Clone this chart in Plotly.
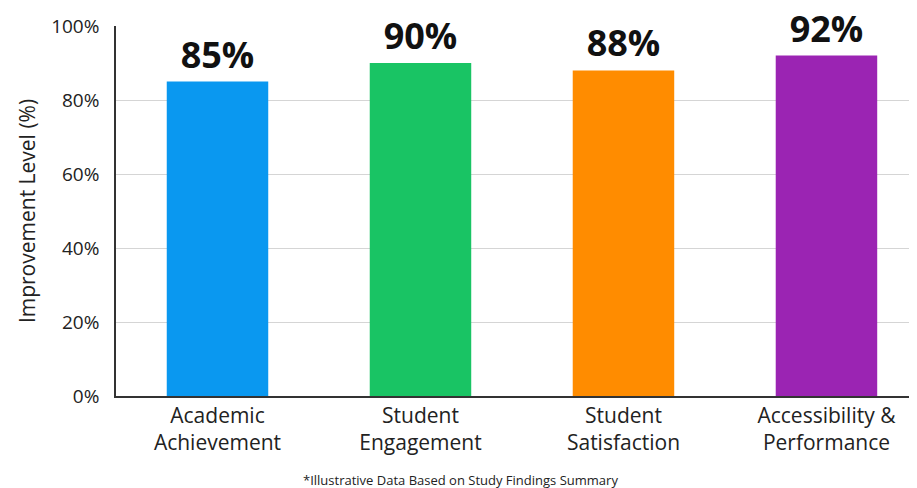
import plotly.graph_objects as go

categories = ["Academic<br>Achievement", "Student<br>Engagement", "Student<br>Satisfaction", "Accessibility &<br>Performance"]
values = [85, 90, 88, 92]
labels = ["85%", "90%", "88%", "92%"]
colors = ["#0A98F0", "#19C464", "#FF8C00", "#9B24B3"]
yticks = [0, 20, 40, 60, 80, 100]
yticklabels = ["0%", "20%", "40%", "60%", "80%", "100%"]

FONT = "Open Sans"

fig = go.Figure(go.Bar(
    x=categories, y=values, marker=dict(color=colors, line=dict(width=0)),
    width=0.5, text=labels, textposition="outside",
    textfont=dict(family=FONT, size=36, color="#111111", weight="bold"),
    cliponaxis=False, hoverinfo="skip",
))

fig.update_layout(
    width=909, height=480,
    margin=dict(l=108, r=0, t=18, b=92),
    paper_bgcolor="white", plot_bgcolor="white",
    showlegend=False, bargap=0.5,
    font=dict(family=FONT, color="#222222"),
    annotations=[dict(
        text="*Illustrative Data Based on Study Findings Summary",
        x=0.43, xref="paper", y=-0.227, yref="paper", yanchor="middle",
        showarrow=False, font=dict(family=FONT, size=13, color="#222222"),
    )],
)
fig.update_xaxes(
    range=[-0.5, 3.446], showline=True, linecolor="#333333", linewidth=1.5,
    tickfont=dict(family=FONT, size=21, color="#222222"), ticks="", showgrid=False,
)
fig.update_yaxes(
    range=[0, 100], tickvals=yticks, ticktext=yticklabels,
    showline=True, linecolor="#333333", linewidth=1.5,
    showgrid=True, gridcolor="#D5D5D5", gridwidth=1,
    tickfont=dict(family=FONT, size=19, color="#222222"), ticks="",
    ticklabelstandoff=11,
    title=dict(text="Improvement Level (%)", font=dict(family=FONT, size=21, color="#222222"), standoff=10),
    zeroline=False,
)

fig.write_html("out.html")
